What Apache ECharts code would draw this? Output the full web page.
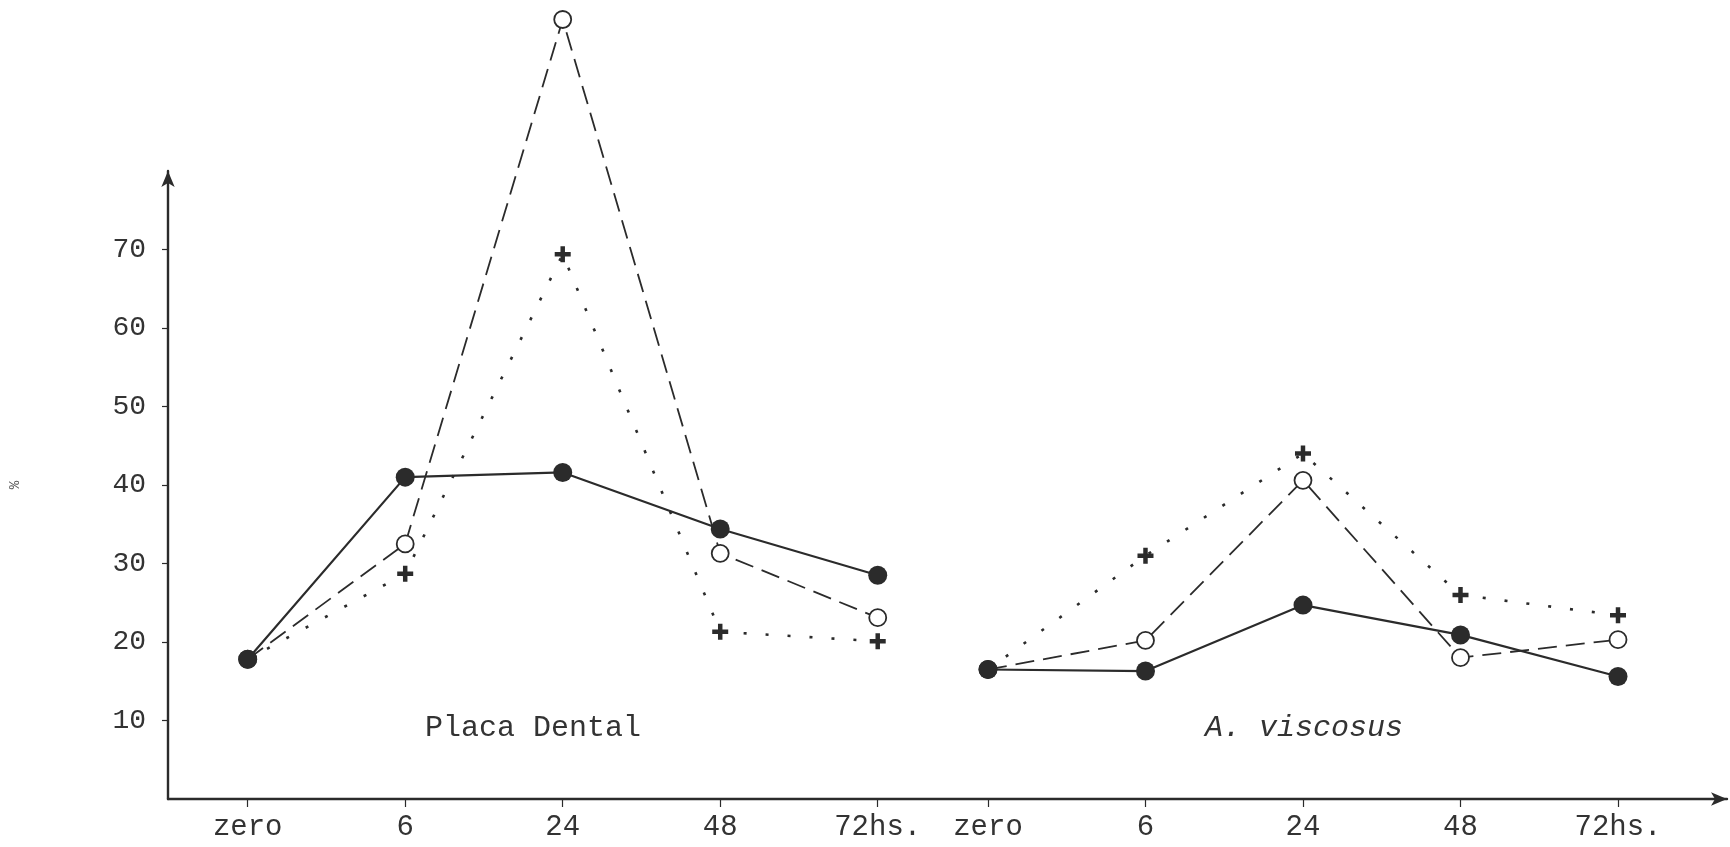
<!DOCTYPE html>
<html>
<head>
<meta charset="utf-8">
<title>Placa Dental / A. viscosus</title>
<script src="https://cdn.jsdelivr.net/npm/echarts@6/dist/echarts.min.js"></script>
<style>
  html, body { margin: 0; padding: 0; background: #fff; }
  #chart { width: 1730px; height: 847px; }
</style>
</head>
<body>
<div id="chart"></div>
<script>
// Sampling times (same for both panels)
const hours = ['zero', '6', '24', '48', '72hs.'];
const panelNames = ['Placa Dental', 'A. viscosus'];

// Percentages, Placa Dental
const placaSolid  = [17.8, 41.0, 41.6, 34.4, 28.5];
const placaDashed = [17.8, 32.5, 99.3, 31.3, 23.1];
const placaDotted = [17.8, 28.7, 69.4, 21.3, 20.1];

// Percentages, A. viscosus
const viscSolid  = [16.5, 16.3, 24.7, 20.9, 15.6];
const viscDashed = [16.5, 20.2, 40.6, 18.0, 20.3];
const viscDotted = [16.5, 31.0, 44.0, 26.0, 23.4];

// Y tick labels
const yTicks = [10, 20, 30, 40, 50, 60, 70];

// Layout: where each panel starts on the shared x scale
const panelStart = [0, 4.7];

const INK = '#2b2b2b';
const FONT = '"Liberation Mono", "DejaVu Sans Mono", monospace';

// x positions of every tick and the label each one carries
const tickPos = [];
const tickText = {};
panelStart.forEach(function (start) {
  hours.forEach(function (h, i) {
    const p = +(start + i).toFixed(2);
    tickPos.push(p);
    tickText[p.toFixed(2)] = h;
  });
});

function pairs(panel, values) {
  return values.map(function (v, i) { return [+(panelStart[panel] + i).toFixed(2), v]; });
}

const plusPath = 'path://M3.6,0 H6.4 V3.6 H10 V6.4 H6.4 V10 H3.6 V6.4 H0 V3.6 H3.6 Z';

function solid(panel, values) {
  return {
    type: 'line', data: pairs(panel, values), clip: false, z: 4,
    symbol: 'circle', symbolSize: 19,
    itemStyle: { color: INK },
    lineStyle: { color: INK, width: 2.2, type: 'solid' }
  };
}
function dashed(panel, values) {
  return {
    type: 'line', data: pairs(panel, values), clip: false, z: 3,
    symbol: 'circle', symbolSize: 17,
    itemStyle: { color: '#fff', borderColor: INK, borderWidth: 1.8 },
    lineStyle: { color: INK, width: 1.8, type: [19, 9] }
  };
}
function dotted(panel, values) {
  return {
    type: 'line', data: pairs(panel, values), clip: false, z: 2,
    symbol: plusPath, symbolSize: 16,
    itemStyle: { color: INK },
    lineStyle: { color: INK, width: 2.6, type: [3, 19] }
  };
}

const chart = echarts.init(document.getElementById('chart'));
chart.setOption({
  animation: false,
  backgroundColor: '#fff',
  grid: { left: 163, right: 3, top: 171, bottom: 48 },
  xAxis: {
    type: 'value',
    min: -0.506,
    max: 9.392,
    splitLine: { show: false },
    axisLine: {
      onZero: false,
      lineStyle: { color: INK, width: 2.4 },
      symbol: ['none', 'arrow'],
      symbolSize: [10, 16]
    },
    axisTick: {
      show: true, inside: false, length: 8,
      customValues: tickPos,
      lineStyle: { color: INK, width: 1.2 }
    },
    axisLabel: {
      customValues: tickPos,
      margin: 14,
      color: '#333',
      fontFamily: FONT,
      fontSize: 29,
      formatter: function (v) { return tickText[(+v).toFixed(2)] || ''; }
    }
  },
  yAxis: {
    type: 'value',
    min: 0,
    max: 80,
    interval: 10,
    name: '%',
    nameLocation: 'middle',
    nameGap: 146,
    nameRotate: 90,
    nameTextStyle: { color: '#555', fontFamily: FONT, fontSize: 14 },
    splitLine: { show: false },
    axisLine: {
      onZero: false,
      lineStyle: { color: INK, width: 2.4 },
      symbol: ['none', 'arrow'],
      symbolSize: [10, 16]
    },
    axisTick: {
      show: true, length: 6,
      customValues: yTicks,
      lineStyle: { color: INK, width: 1.2 }
    },
    axisLabel: {
      customValues: yTicks,
      margin: 22,
      color: '#333',
      fontFamily: FONT,
      fontSize: 28
    }
  },
  graphic: [
    {
      type: 'text', left: 425, top: 713,
      style: { text: panelNames[0], fill: '#333', font: '30px ' + FONT }
    },
    {
      type: 'text', left: 1205, top: 713,
      style: { text: panelNames[1], fill: '#333', font: 'italic 30px ' + FONT }
    }
  ],
  series: [
    dotted(0, placaDotted),
    dashed(0, placaDashed),
    solid(0, placaSolid),
    dotted(1, viscDotted),
    dashed(1, viscDashed),
    solid(1, viscSolid)
  ]
});
</script>
</body>
</html>
